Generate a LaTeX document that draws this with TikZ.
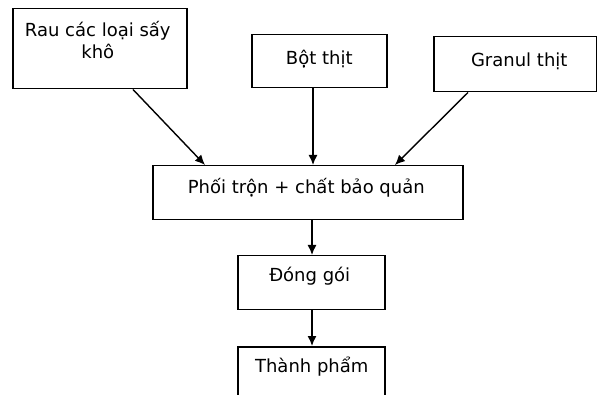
\documentclass[tikz,border=0pt]{standalone}
\usepackage{fontspec}
\setmainfont{DejaVu Sans}
\usetikzlibrary{arrows.meta,calc}
\tikzset{
  box/.style={draw=black, line width=1.5pt, rectangle, inner sep=0pt, anchor=north west},
  txt/.style={font=\fontsize{18}{22}\selectfont, inner sep=0pt, anchor=base, text=black},
  arr/.style={draw=black, line width=1.4pt, -{Latex[length=10pt,width=9pt]}}
}
\begin{document}
\begin{tikzpicture}[x=1pt,y=-1pt]
\clip (0,0) rectangle (597,395);
\fill[white] (0,0) rectangle (597,395);
% boxes
\node[box, minimum width=174, minimum height=80] (b1) at (12,8) {};
\node[box, minimum width=135, minimum height=53] (b2) at (251,34) {};
\node[box, minimum width=163, minimum height=55] (b3) at (433,36) {};
\node[box, minimum width=310, minimum height=54] (b4) at (152,165) {};
\node[box, minimum width=147, minimum height=54] (b5) at (237,255) {};
\node[box, minimum width=147, minimum height=60] (b6) at (237,346) {};
% texts
\node[txt] (t1a) at ($(b1.north)+(-2,29)$) {Rau các loại sấy};
\node[txt] (t1b) at ($(b1.north)+(-2,51)$) {khô};
\node[txt] (t2) at ($(b2.north)+(0,31)$) {Bột thịt};
\node[txt] (t3) at ($(b3.north)+(4,31)$) {Granul thịt};
\node[txt] (t4) at ($(b4.north)+(-1.5,29)$) {Phối trộn + chất bảo quản};
\node[txt] (t5) at ($(b5.north)+(-1.5,27)$) {Đóng gói};
\node[txt] (t6) at ($(b6.north)+(0.5,26)$) {Thành phẩm};
% connectors
\draw[arr] ($(b1.south west)+(121,0)$) -- ($(b4.north west)+(53,0)$);
\draw[arr] ($(b2.south west)+(62,0)$) -- ($(b4.north west)+(161,0)$);
\draw[arr] ($(b3.south west)+(35,0)$) -- ($(b4.north west)+(243,0)$);
\draw[arr] ($(b4.south west)+(160,0)$) -- ($(b5.north west)+(75,0)$);
\draw[arr] ($(b5.south west)+(75,0)$) -- ($(b6.north west)+(75,0)$);
\end{tikzpicture}
\end{document}
